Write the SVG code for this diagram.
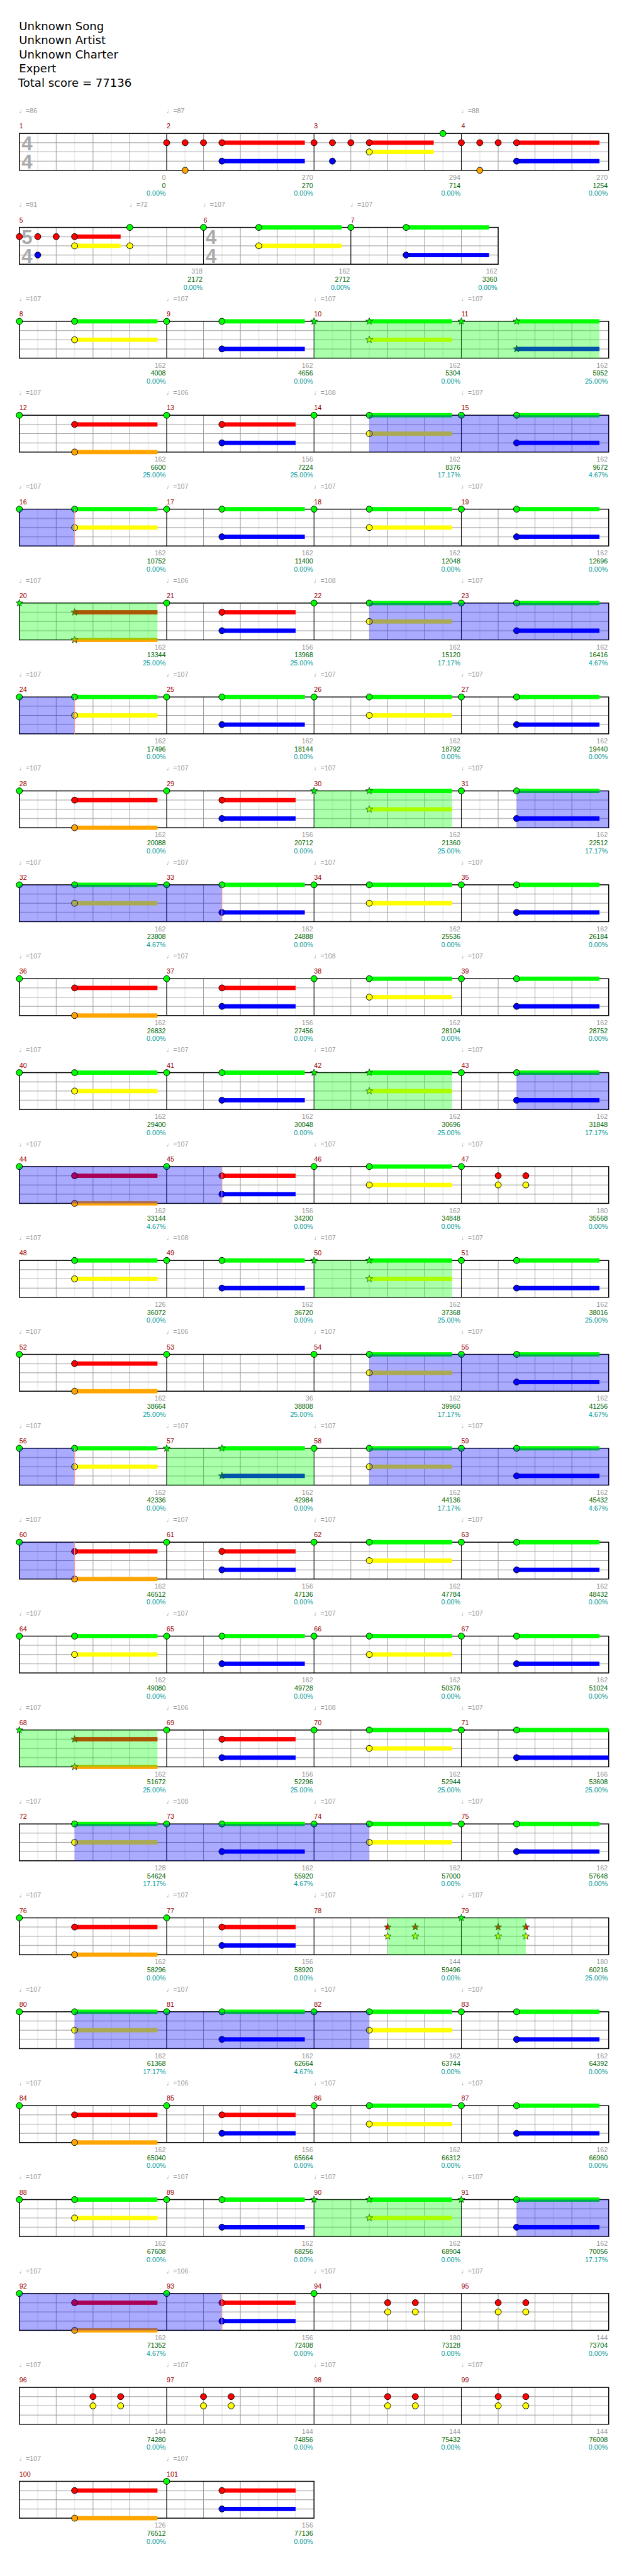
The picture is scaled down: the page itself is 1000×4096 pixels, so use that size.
<svg xmlns="http://www.w3.org/2000/svg" width="1000" height="4096" viewBox="0 0 1000 4096">
<style>
.t{font-family:"Liberation Sans",Arial,sans-serif;font-size:11px}
.hd{font-family:"DejaVu Sans",Verdana,sans-serif;font-size:18.5px;fill:#000}
.tp{fill:#999}
.mn{fill:#900}
.gn{fill:#999;text-anchor:end}
.sc{fill:#060;text-anchor:end}
.pc{fill:#099;text-anchor:end}
.ts{font-family:"Liberation Sans",Arial,sans-serif;font-size:32px;font-weight:bold;fill:#aaa}
.sp{fill:#0f0;fill-opacity:.333}
.ac{fill:#00f;fill-opacity:.333}
.pk{stroke:#f99;stroke-width:1;fill:none}
</style>
<defs>
<pattern id="grid" patternUnits="userSpaceOnUse" x="31" y="0" width="60" height="60">
<rect width="60" height="60" fill="#fff"/>
<path d="M30.5 0V60" stroke="#ddd" stroke-width="1"/>
<path d="M0.5 0V60M0 15H60M0 30H60M0 45H60" stroke="#999" stroke-width="1"/>
</pattern>
<circle id="n" r="5" stroke="#000" stroke-width="1"/>
<polygon id="st" points="0,-6 1.41,-1.94 5.71,-1.85 2.28,0.74 3.53,4.85 0,2.4 -3.53,4.85 -2.28,0.74 -5.71,-1.85 -1.41,-1.94" stroke="#030" stroke-width="0.8"/>
<rect id="s135" width="135" height="7"/>
<rect id="s120" width="120" height="7"/>
<rect id="s150" width="150" height="7"/>
<rect id="s105" width="105" height="7"/>
<rect id="s75" width="75" height="7"/>
<g id="staff"><rect x="31.5" width="960" height="60" fill="url(#grid)"/><path d="M271.5 0V60M511.5 0V60M751.5 0V60" stroke="#000" stroke-width="1" fill="none"/><rect x="31.5" width="960" height="60" fill="none" stroke="#000" stroke-width="1.5"/></g>
<g id="pGY"><use href="#s135" fill="#0f0" x="90" y="-3.5"/><use href="#s135" fill="#ff0" x="90" y="26.5"/><use href="#n" fill="#0f0" x="90"/><use href="#n" fill="#ff0" x="90" y="30"/></g>
<g id="pGB"><use href="#s135" fill="#0f0" x="90" y="-3.5"/><use href="#s135" fill="#00f" x="90" y="41.5"/><use href="#n" fill="#0f0" x="90"/><use href="#n" fill="#00f" x="90" y="45"/></g>
<g id="pRO"><use href="#s135" fill="#f00" x="90" y="11.5"/><use href="#s135" fill="#ffa500" x="90" y="56.5"/><use href="#n" fill="#f00" x="90" y="15"/><use href="#n" fill="#ffa500" x="90" y="60"/></g>
<g id="pRB"><use href="#s120" fill="#f00" x="90" y="11.5"/><use href="#s120" fill="#00f" x="90" y="41.5"/><use href="#n" fill="#f00" x="90" y="15"/><use href="#n" fill="#00f" x="90" y="45"/></g>
<g id="mGY"><use href="#n" fill="#0f0"/><use href="#pGY"/></g>
<g id="mGB"><use href="#n" fill="#0f0"/><use href="#pGB"/></g>
<g id="mRO"><use href="#n" fill="#0f0"/><use href="#pRO"/></g>
<g id="mRB"><use href="#n" fill="#0f0"/><use href="#pRB"/></g>
<g id="mGYs"><use href="#st" fill="#0f0"/><use href="#s135" fill="#0f0" x="90" y="-3.5"/><use href="#s135" fill="#ff0" x="90" y="26.5"/><use href="#st" fill="#0f0" x="90"/><use href="#st" fill="#ff0" x="90" y="30"/></g>
<g id="mGBs"><use href="#st" fill="#0f0"/><use href="#s135" fill="#0f0" x="90" y="-3.5"/><use href="#s135" fill="#00f" x="90" y="41.5"/><use href="#st" fill="#0f0" x="90"/><use href="#st" fill="#00f" x="90" y="45"/></g>
<g id="mROs"><use href="#st" fill="#0f0"/><use href="#s135" fill="#f00" x="90" y="11.5"/><use href="#s135" fill="#ffa500" x="90" y="56.5"/><use href="#st" fill="#f00" x="90" y="15"/><use href="#st" fill="#ffa500" x="90" y="60"/></g>
<g id="cRY"><use href="#n" fill="#f00" y="15"/><use href="#n" fill="#f00" x="45" y="15"/><use href="#n" fill="#ff0" y="30"/><use href="#n" fill="#ff0" x="45" y="30"/></g>
<g id="cRYs"><use href="#st" fill="#f00" y="15"/><use href="#st" fill="#f00" x="45" y="15"/><use href="#st" fill="#ff0" y="30"/><use href="#st" fill="#ff0" x="45" y="30"/></g>
<g id="m2"><use href="#s135" fill="#f00" x="90" y="11.5"/><use href="#s135" fill="#00f" x="90" y="41.5"/><use href="#n" fill="#f00" y="15"/><use href="#n" fill="#f00" x="30" y="15"/><use href="#n" fill="#f00" x="60" y="15"/><use href="#n" fill="#f00" x="90" y="15"/><use href="#n" fill="#00f" x="90" y="45"/><use href="#n" fill="#ffa500" x="30" y="60"/></g>
<g id="m3"><use href="#s105" fill="#f00" x="90" y="11.5"/><use href="#s105" fill="#ff0" x="90" y="26.5"/><use href="#n" fill="#f00" y="15"/><use href="#n" fill="#f00" x="30" y="15"/><use href="#n" fill="#f00" x="60" y="15"/><use href="#n" fill="#f00" x="90" y="15"/><use href="#n" fill="#ff0" x="90" y="30"/><use href="#n" fill="#00f" x="30" y="45"/><use href="#n" fill="#0f0" x="210"/></g>
</defs>
<rect width="1000" height="4096" fill="#fff"/>
<g transform="scale(0.976)">
<g id="header" class="hd">
<text x="31" y="49">Unknown Song</text>
<text x="31" y="72">Unknown Artist</text>
<text x="31" y="95">Unknown Charter</text>
<text x="31" y="118">Expert</text>
<text x="29.5" y="141">Total score = 77136</text>
</g>

<g id="row-1-4" transform="translate(0,217.5)">
<text class="t tp" y="-33"><tspan x="31">♩=86</tspan><tspan x="271">♩=87</tspan><tspan x="751">♩=88</tspan></text>
<text class="t mn" y="-8"><tspan x="31.5">1</tspan><tspan x="271.5">2</tspan><tspan x="511.5">3</tspan><tspan x="751.5">4</tspan></text>
<use href="#staff"/>
<text class="ts" x="35" y="27.5">4</text><text class="ts" x="35" y="57.5">4</text>
<use href="#m2" x="271.5"/><use href="#m3" x="511.5"/><use href="#m2" x="751.5"/>
<text class="t gn" y="75.5"><tspan x="270">0</tspan><tspan x="510">270</tspan><tspan x="750">294</tspan><tspan x="990">270</tspan></text>
<text class="t sc" y="88.5"><tspan x="270">0</tspan><tspan x="510">270</tspan><tspan x="750">714</tspan><tspan x="990">1254</tspan></text>
<text class="t pc" y="101.5"><tspan x="270">0.00%</tspan><tspan x="510">0.00%</tspan><tspan x="750">0.00%</tspan><tspan x="990">0.00%</tspan></text>
</g>

<g id="row-5-7" transform="translate(0,370.5)">
<text class="t tp" y="-33"><tspan x="31">♩=91</tspan><tspan x="211">♩=72</tspan><tspan x="331">♩=107</tspan><tspan x="571">♩=107</tspan></text>
<text class="t mn" y="-8"><tspan x="31.5">5</tspan><tspan x="331.5">6</tspan><tspan x="571.5">7</tspan></text>
<rect x="31.5" width="780" height="60" fill="url(#grid)"/>
<path d="M331.5 0V60M571.5 0V60" stroke="#000" stroke-width="1"/>
<rect x="31.5" width="780" height="60" fill="none" stroke="#000" stroke-width="1.5"/>
<text class="ts" x="35" y="27.5">5</text><text class="ts" x="35" y="57.5">4</text>
<text class="ts" x="335" y="27.5">4</text><text class="ts" x="335" y="57.5">4</text>
<use href="#s75" fill="#f00" x="121.5" y="11.5"/><use href="#s75" fill="#ff0" x="121.5" y="26.5"/>
<use href="#s135" fill="#0f0" x="421.5" y="-3.5"/><use href="#s135" fill="#ff0" x="421.5" y="26.5"/>
<use href="#s135" fill="#0f0" x="661.5" y="-3.5"/><use href="#s135" fill="#00f" x="661.5" y="41.5"/>
<use href="#n" fill="#f00" x="31.5" y="15"/><use href="#n" fill="#f00" x="61.5" y="15"/><use href="#n" fill="#f00" x="91.5" y="15"/><use href="#n" fill="#f00" x="121.5" y="15"/>
<use href="#n" fill="#00f" x="61.5" y="45"/><use href="#n" fill="#ff0" x="121.5" y="30"/>
<use href="#n" fill="#0f0" x="211.5"/><use href="#n" fill="#ff0" x="211.5" y="30"/>
<use href="#n" fill="#0f0" x="331.5"/>
<use href="#n" fill="#0f0" x="421.5"/><use href="#n" fill="#ff0" x="421.5" y="30"/>
<use href="#n" fill="#0f0" x="571.5"/>
<use href="#n" fill="#0f0" x="661.5"/><use href="#n" fill="#00f" x="661.5" y="45"/>
<text class="t gn" y="75.5"><tspan x="330">318</tspan><tspan x="570">162</tspan><tspan x="810">162</tspan></text>
<text class="t sc" y="88.5"><tspan x="330">2172</tspan><tspan x="570">2712</tspan><tspan x="810">3360</tspan></text>
<text class="t pc" y="101.5"><tspan x="330">0.00%</tspan><tspan x="570">0.00%</tspan><tspan x="810">0.00%</tspan></text>
</g>

<g id="row-8-11" transform="translate(0,523.5)">
<text class="t tp" y="-33"><tspan x="31">♩=107</tspan><tspan x="271">♩=107</tspan><tspan x="511">♩=107</tspan><tspan x="751">♩=107</tspan></text>
<text class="t mn" y="-8"><tspan x="31.5">8</tspan><tspan x="271.5">9</tspan><tspan x="511.5">10</tspan><tspan x="751.5">11</tspan></text>
<use href="#staff"/>
<use href="#mGY" x="31.5"/><use href="#mGB" x="271.5"/><use href="#mGYs" x="511.5"/><use href="#mGBs" x="751.5"/>
<rect class="sp" x="511.5" width="465" height="60"/>
<text class="t gn" y="75.5"><tspan x="270">162</tspan><tspan x="510">162</tspan><tspan x="750">162</tspan><tspan x="990">162</tspan></text>
<text class="t sc" y="88.5"><tspan x="270">4008</tspan><tspan x="510">4656</tspan><tspan x="750">5304</tspan><tspan x="990">5952</tspan></text>
<text class="t pc" y="101.5"><tspan x="270">0.00%</tspan><tspan x="510">0.00%</tspan><tspan x="750">0.00%</tspan><tspan x="990">25.00%</tspan></text>
</g>

<g id="row-12-15" transform="translate(0,676.5)">
<text class="t tp" y="-33"><tspan x="31">♩=107</tspan><tspan x="271">♩=106</tspan><tspan x="511">♩=108</tspan><tspan x="751">♩=107</tspan></text>
<text class="t mn" y="-8"><tspan x="31.5">12</tspan><tspan x="271.5">13</tspan><tspan x="511.5">14</tspan><tspan x="751.5">15</tspan></text>
<use href="#staff"/>
<use href="#mRO" x="31.5"/><use href="#mRB" x="271.5"/><use href="#mGY" x="511.5"/><use href="#mGB" x="751.5"/>
<rect class="ac" x="601.5" width="390" height="60"/>
<text class="t gn" y="75.5"><tspan x="270">162</tspan><tspan x="510">156</tspan><tspan x="750">162</tspan><tspan x="990">162</tspan></text>
<text class="t sc" y="88.5"><tspan x="270">6600</tspan><tspan x="510">7224</tspan><tspan x="750">8376</tspan><tspan x="990">9672</tspan></text>
<text class="t pc" y="101.5"><tspan x="270">25.00%</tspan><tspan x="510">25.00%</tspan><tspan x="750">17.17%</tspan><tspan x="990">4.67%</tspan></text>
</g>

<g id="row-16-19" transform="translate(0,829.5)">
<text class="t tp" y="-33"><tspan x="31">♩=107</tspan><tspan x="271">♩=107</tspan><tspan x="511">♩=107</tspan><tspan x="751">♩=107</tspan></text>
<text class="t mn" y="-8"><tspan x="31.5">16</tspan><tspan x="271.5">17</tspan><tspan x="511.5">18</tspan><tspan x="751.5">19</tspan></text>
<use href="#staff"/>
<use href="#mGY" x="31.5"/><use href="#mGB" x="271.5"/><use href="#mGY" x="511.5"/><use href="#mGB" x="751.5"/>
<rect class="ac" x="31.5" width="90" height="60"/><path class="pk" d="M121.5 0V60"/>
<text class="t gn" y="75.5"><tspan x="270">162</tspan><tspan x="510">162</tspan><tspan x="750">162</tspan><tspan x="990">162</tspan></text>
<text class="t sc" y="88.5"><tspan x="270">10752</tspan><tspan x="510">11400</tspan><tspan x="750">12048</tspan><tspan x="990">12696</tspan></text>
<text class="t pc" y="101.5"><tspan x="270">0.00%</tspan><tspan x="510">0.00%</tspan><tspan x="750">0.00%</tspan><tspan x="990">0.00%</tspan></text>
</g>

<g id="row-20-23" transform="translate(0,982.5)">
<text class="t tp" y="-33"><tspan x="31">♩=107</tspan><tspan x="271">♩=106</tspan><tspan x="511">♩=108</tspan><tspan x="751">♩=107</tspan></text>
<text class="t mn" y="-8"><tspan x="31.5">20</tspan><tspan x="271.5">21</tspan><tspan x="511.5">22</tspan><tspan x="751.5">23</tspan></text>
<use href="#staff"/>
<use href="#mROs" x="31.5"/><use href="#mRB" x="271.5"/><use href="#mGY" x="511.5"/><use href="#mGB" x="751.5"/>
<rect class="sp" x="31.5" width="225" height="60"/><rect class="ac" x="601.5" width="390" height="60"/>
<text class="t gn" y="75.5"><tspan x="270">162</tspan><tspan x="510">156</tspan><tspan x="750">162</tspan><tspan x="990">162</tspan></text>
<text class="t sc" y="88.5"><tspan x="270">13344</tspan><tspan x="510">13968</tspan><tspan x="750">15120</tspan><tspan x="990">16416</tspan></text>
<text class="t pc" y="101.5"><tspan x="270">25.00%</tspan><tspan x="510">25.00%</tspan><tspan x="750">17.17%</tspan><tspan x="990">4.67%</tspan></text>
</g>

<g id="row-24-27" transform="translate(0,1135.5)">
<text class="t tp" y="-33"><tspan x="31">♩=107</tspan><tspan x="271">♩=107</tspan><tspan x="511">♩=107</tspan><tspan x="751">♩=107</tspan></text>
<text class="t mn" y="-8"><tspan x="31.5">24</tspan><tspan x="271.5">25</tspan><tspan x="511.5">26</tspan><tspan x="751.5">27</tspan></text>
<use href="#staff"/>
<use href="#mGY" x="31.5"/><use href="#mGB" x="271.5"/><use href="#mGY" x="511.5"/><use href="#mGB" x="751.5"/>
<rect class="ac" x="31.5" width="90" height="60"/><path class="pk" d="M121.5 0V60"/>
<text class="t gn" y="75.5"><tspan x="270">162</tspan><tspan x="510">162</tspan><tspan x="750">162</tspan><tspan x="990">162</tspan></text>
<text class="t sc" y="88.5"><tspan x="270">17496</tspan><tspan x="510">18144</tspan><tspan x="750">18792</tspan><tspan x="990">19440</tspan></text>
<text class="t pc" y="101.5"><tspan x="270">0.00%</tspan><tspan x="510">0.00%</tspan><tspan x="750">0.00%</tspan><tspan x="990">0.00%</tspan></text>
</g>

<g id="row-28-31" transform="translate(0,1288.5)">
<text class="t tp" y="-33"><tspan x="31">♩=107</tspan><tspan x="271">♩=107</tspan><tspan x="511">♩=107</tspan><tspan x="751">♩=107</tspan></text>
<text class="t mn" y="-8"><tspan x="31.5">28</tspan><tspan x="271.5">29</tspan><tspan x="511.5">30</tspan><tspan x="751.5">31</tspan></text>
<use href="#staff"/>
<use href="#mRO" x="31.5"/><use href="#mRB" x="271.5"/><use href="#mGYs" x="511.5"/><use href="#mGB" x="751.5"/>
<rect class="sp" x="511.5" width="225" height="60"/><rect class="ac" x="841.5" width="150" height="60"/>
<text class="t gn" y="75.5"><tspan x="270">162</tspan><tspan x="510">156</tspan><tspan x="750">162</tspan><tspan x="990">162</tspan></text>
<text class="t sc" y="88.5"><tspan x="270">20088</tspan><tspan x="510">20712</tspan><tspan x="750">21360</tspan><tspan x="990">22512</tspan></text>
<text class="t pc" y="101.5"><tspan x="270">0.00%</tspan><tspan x="510">0.00%</tspan><tspan x="750">25.00%</tspan><tspan x="990">17.17%</tspan></text>
</g>

<g id="row-32-35" transform="translate(0,1441.5)">
<text class="t tp" y="-33"><tspan x="31">♩=107</tspan><tspan x="271">♩=107</tspan><tspan x="511">♩=107</tspan><tspan x="751">♩=107</tspan></text>
<text class="t mn" y="-8"><tspan x="31.5">32</tspan><tspan x="271.5">33</tspan><tspan x="511.5">34</tspan><tspan x="751.5">35</tspan></text>
<use href="#staff"/>
<use href="#mGY" x="31.5"/><use href="#mGB" x="271.5"/><use href="#mGY" x="511.5"/><use href="#mGB" x="751.5"/>
<rect class="ac" x="31.5" width="330" height="60"/><path class="pk" d="M361.5 0V60"/>
<text class="t gn" y="75.5"><tspan x="270">162</tspan><tspan x="510">162</tspan><tspan x="750">162</tspan><tspan x="990">162</tspan></text>
<text class="t sc" y="88.5"><tspan x="270">23808</tspan><tspan x="510">24888</tspan><tspan x="750">25536</tspan><tspan x="990">26184</tspan></text>
<text class="t pc" y="101.5"><tspan x="270">4.67%</tspan><tspan x="510">0.00%</tspan><tspan x="750">0.00%</tspan><tspan x="990">0.00%</tspan></text>
</g>

<g id="row-36-39" transform="translate(0,1594.5)">
<text class="t tp" y="-33"><tspan x="31">♩=107</tspan><tspan x="271">♩=107</tspan><tspan x="511">♩=108</tspan><tspan x="751">♩=107</tspan></text>
<text class="t mn" y="-8"><tspan x="31.5">36</tspan><tspan x="271.5">37</tspan><tspan x="511.5">38</tspan><tspan x="751.5">39</tspan></text>
<use href="#staff"/>
<use href="#mRO" x="31.5"/><use href="#mRB" x="271.5"/><use href="#mGY" x="511.5"/><use href="#mGB" x="751.5"/>
<text class="t gn" y="75.5"><tspan x="270">162</tspan><tspan x="510">156</tspan><tspan x="750">162</tspan><tspan x="990">162</tspan></text>
<text class="t sc" y="88.5"><tspan x="270">26832</tspan><tspan x="510">27456</tspan><tspan x="750">28104</tspan><tspan x="990">28752</tspan></text>
<text class="t pc" y="101.5"><tspan x="270">0.00%</tspan><tspan x="510">0.00%</tspan><tspan x="750">0.00%</tspan><tspan x="990">0.00%</tspan></text>
</g>

<g id="row-40-43" transform="translate(0,1747.5)">
<text class="t tp" y="-33"><tspan x="31">♩=107</tspan><tspan x="271">♩=107</tspan><tspan x="511">♩=107</tspan><tspan x="751">♩=107</tspan></text>
<text class="t mn" y="-8"><tspan x="31.5">40</tspan><tspan x="271.5">41</tspan><tspan x="511.5">42</tspan><tspan x="751.5">43</tspan></text>
<use href="#staff"/>
<use href="#mGY" x="31.5"/><use href="#mGB" x="271.5"/><use href="#mGYs" x="511.5"/><use href="#mGB" x="751.5"/>
<rect class="sp" x="511.5" width="225" height="60"/><rect class="ac" x="841.5" width="150" height="60"/>
<text class="t gn" y="75.5"><tspan x="270">162</tspan><tspan x="510">162</tspan><tspan x="750">162</tspan><tspan x="990">162</tspan></text>
<text class="t sc" y="88.5"><tspan x="270">29400</tspan><tspan x="510">30048</tspan><tspan x="750">30696</tspan><tspan x="990">31848</tspan></text>
<text class="t pc" y="101.5"><tspan x="270">0.00%</tspan><tspan x="510">0.00%</tspan><tspan x="750">25.00%</tspan><tspan x="990">17.17%</tspan></text>
</g>

<g id="row-44-47" transform="translate(0,1900.5)">
<text class="t tp" y="-33"><tspan x="31">♩=107</tspan><tspan x="271">♩=107</tspan><tspan x="511">♩=107</tspan><tspan x="751">♩=107</tspan></text>
<text class="t mn" y="-8"><tspan x="31.5">44</tspan><tspan x="271.5">45</tspan><tspan x="511.5">46</tspan><tspan x="751.5">47</tspan></text>
<use href="#staff"/>
<use href="#mRO" x="31.5"/><use href="#mRB" x="271.5"/><use href="#mGY" x="511.5"/><use href="#n" fill="#0f0" x="751.5"/><use href="#cRY" x="811.5"/>
<rect class="ac" x="31.5" width="330" height="60"/><path class="pk" d="M361.5 0V60"/>
<text class="t gn" y="75.5"><tspan x="270">162</tspan><tspan x="510">156</tspan><tspan x="750">162</tspan><tspan x="990">180</tspan></text>
<text class="t sc" y="88.5"><tspan x="270">33144</tspan><tspan x="510">34200</tspan><tspan x="750">34848</tspan><tspan x="990">35568</tspan></text>
<text class="t pc" y="101.5"><tspan x="270">4.67%</tspan><tspan x="510">0.00%</tspan><tspan x="750">0.00%</tspan><tspan x="990">0.00%</tspan></text>
</g>

<g id="row-48-51" transform="translate(0,2053.5)">
<text class="t tp" y="-33"><tspan x="31">♩=107</tspan><tspan x="271">♩=108</tspan><tspan x="511">♩=107</tspan><tspan x="751">♩=107</tspan></text>
<text class="t mn" y="-8"><tspan x="31.5">48</tspan><tspan x="271.5">49</tspan><tspan x="511.5">50</tspan><tspan x="751.5">51</tspan></text>
<use href="#staff"/>
<use href="#pGY" x="31.5"/><use href="#mGB" x="271.5"/><use href="#mGYs" x="511.5"/><use href="#mGB" x="751.5"/>
<rect class="sp" x="511.5" width="225" height="60"/>
<text class="t gn" y="75.5"><tspan x="270">126</tspan><tspan x="510">162</tspan><tspan x="750">162</tspan><tspan x="990">162</tspan></text>
<text class="t sc" y="88.5"><tspan x="270">36072</tspan><tspan x="510">36720</tspan><tspan x="750">37368</tspan><tspan x="990">38016</tspan></text>
<text class="t pc" y="101.5"><tspan x="270">0.00%</tspan><tspan x="510">0.00%</tspan><tspan x="750">25.00%</tspan><tspan x="990">25.00%</tspan></text>
</g>

<g id="row-52-55" transform="translate(0,2206.5)">
<text class="t tp" y="-33"><tspan x="31">♩=107</tspan><tspan x="271">♩=106</tspan><tspan x="511">♩=107</tspan><tspan x="751">♩=107</tspan></text>
<text class="t mn" y="-8"><tspan x="31.5">52</tspan><tspan x="271.5">53</tspan><tspan x="511.5">54</tspan><tspan x="751.5">55</tspan></text>
<use href="#staff"/>
<use href="#mRO" x="31.5"/><use href="#n" fill="#0f0" x="271.5"/><use href="#mGY" x="511.5"/><use href="#mGB" x="751.5"/>
<rect class="ac" x="601.5" width="390" height="60"/>
<text class="t gn" y="75.5"><tspan x="270">162</tspan><tspan x="510">36</tspan><tspan x="750">162</tspan><tspan x="990">162</tspan></text>
<text class="t sc" y="88.5"><tspan x="270">38664</tspan><tspan x="510">38808</tspan><tspan x="750">39960</tspan><tspan x="990">41256</tspan></text>
<text class="t pc" y="101.5"><tspan x="270">25.00%</tspan><tspan x="510">25.00%</tspan><tspan x="750">17.17%</tspan><tspan x="990">4.67%</tspan></text>
</g>

<g id="row-56-59" transform="translate(0,2359.5)">
<text class="t tp" y="-33"><tspan x="31">♩=107</tspan><tspan x="271">♩=107</tspan><tspan x="511">♩=107</tspan><tspan x="751">♩=107</tspan></text>
<text class="t mn" y="-8"><tspan x="31.5">56</tspan><tspan x="271.5">57</tspan><tspan x="511.5">58</tspan><tspan x="751.5">59</tspan></text>
<use href="#staff"/>
<use href="#mGY" x="31.5"/><use href="#mGBs" x="271.5"/><use href="#mGY" x="511.5"/><use href="#mGB" x="751.5"/>
<rect class="ac" x="31.5" width="90" height="60"/><path class="pk" d="M121.5 0V60"/>
<rect class="sp" x="271.5" width="240" height="60"/><rect class="ac" x="601.5" width="390" height="60"/>
<text class="t gn" y="75.5"><tspan x="270">162</tspan><tspan x="510">162</tspan><tspan x="750">162</tspan><tspan x="990">162</tspan></text>
<text class="t sc" y="88.5"><tspan x="270">42336</tspan><tspan x="510">42984</tspan><tspan x="750">44136</tspan><tspan x="990">45432</tspan></text>
<text class="t pc" y="101.5"><tspan x="270">0.00%</tspan><tspan x="510">0.00%</tspan><tspan x="750">17.17%</tspan><tspan x="990">4.67%</tspan></text>
</g>

<g id="row-60-63" transform="translate(0,2512.5)">
<text class="t tp" y="-33"><tspan x="31">♩=107</tspan><tspan x="271">♩=107</tspan><tspan x="511">♩=107</tspan><tspan x="751">♩=107</tspan></text>
<text class="t mn" y="-8"><tspan x="31.5">60</tspan><tspan x="271.5">61</tspan><tspan x="511.5">62</tspan><tspan x="751.5">63</tspan></text>
<use href="#staff"/>
<use href="#mRO" x="31.5"/><use href="#mRB" x="271.5"/><use href="#mGY" x="511.5"/><use href="#mGB" x="751.5"/>
<rect class="ac" x="31.5" width="90" height="60"/><path class="pk" d="M121.5 0V60"/>
<text class="t gn" y="75.5"><tspan x="270">162</tspan><tspan x="510">156</tspan><tspan x="750">162</tspan><tspan x="990">162</tspan></text>
<text class="t sc" y="88.5"><tspan x="270">46512</tspan><tspan x="510">47136</tspan><tspan x="750">47784</tspan><tspan x="990">48432</tspan></text>
<text class="t pc" y="101.5"><tspan x="270">0.00%</tspan><tspan x="510">0.00%</tspan><tspan x="750">0.00%</tspan><tspan x="990">0.00%</tspan></text>
</g>

<g id="row-64-67" transform="translate(0,2665.5)">
<text class="t tp" y="-33"><tspan x="31">♩=107</tspan><tspan x="271">♩=107</tspan><tspan x="511">♩=107</tspan><tspan x="751">♩=107</tspan></text>
<text class="t mn" y="-8"><tspan x="31.5">64</tspan><tspan x="271.5">65</tspan><tspan x="511.5">66</tspan><tspan x="751.5">67</tspan></text>
<use href="#staff"/>
<use href="#mGY" x="31.5"/><use href="#mGB" x="271.5"/><use href="#mGY" x="511.5"/><use href="#mGB" x="751.5"/>
<text class="t gn" y="75.5"><tspan x="270">162</tspan><tspan x="510">162</tspan><tspan x="750">162</tspan><tspan x="990">162</tspan></text>
<text class="t sc" y="88.5"><tspan x="270">49080</tspan><tspan x="510">49728</tspan><tspan x="750">50376</tspan><tspan x="990">51024</tspan></text>
<text class="t pc" y="101.5"><tspan x="270">0.00%</tspan><tspan x="510">0.00%</tspan><tspan x="750">0.00%</tspan><tspan x="990">0.00%</tspan></text>
</g>

<g id="row-68-71" transform="translate(0,2818.5)">
<text class="t tp" y="-33"><tspan x="31">♩=107</tspan><tspan x="271">♩=106</tspan><tspan x="511">♩=108</tspan><tspan x="751">♩=107</tspan></text>
<text class="t mn" y="-8"><tspan x="31.5">68</tspan><tspan x="271.5">69</tspan><tspan x="511.5">70</tspan><tspan x="751.5">71</tspan></text>
<use href="#staff"/>
<use href="#mROs" x="31.5"/><use href="#mRB" x="271.5"/><use href="#mGY" x="511.5"/>
<use href="#n" fill="#0f0" x="751.5"/><use href="#s150" fill="#0f0" x="841.5" y="-3.5"/><use href="#s150" fill="#00f" x="841.5" y="41.5"/><use href="#n" fill="#0f0" x="841.5"/><use href="#n" fill="#00f" x="841.5" y="45"/>
<rect class="sp" x="31.5" width="225" height="60"/>
<text class="t gn" y="75.5"><tspan x="270">162</tspan><tspan x="510">156</tspan><tspan x="750">162</tspan><tspan x="990">166</tspan></text>
<text class="t sc" y="88.5"><tspan x="270">51672</tspan><tspan x="510">52296</tspan><tspan x="750">52944</tspan><tspan x="990">53608</tspan></text>
<text class="t pc" y="101.5"><tspan x="270">25.00%</tspan><tspan x="510">25.00%</tspan><tspan x="750">25.00%</tspan><tspan x="990">25.00%</tspan></text>
</g>

<g id="row-72-75" transform="translate(0,2971.5)">
<text class="t tp" y="-33"><tspan x="31">♩=107</tspan><tspan x="271">♩=108</tspan><tspan x="511">♩=107</tspan><tspan x="751">♩=107</tspan></text>
<text class="t mn" y="-8"><tspan x="31.5">72</tspan><tspan x="271.5">73</tspan><tspan x="511.5">74</tspan><tspan x="751.5">75</tspan></text>
<use href="#staff"/>
<use href="#pGY" x="31.5"/><use href="#mGB" x="271.5"/><use href="#mGY" x="511.5"/><use href="#mGB" x="751.5"/>
<rect class="ac" x="121.5" width="480" height="60"/>
<text class="t gn" y="75.5"><tspan x="270">128</tspan><tspan x="510">162</tspan><tspan x="750">162</tspan><tspan x="990">162</tspan></text>
<text class="t sc" y="88.5"><tspan x="270">54624</tspan><tspan x="510">55920</tspan><tspan x="750">57000</tspan><tspan x="990">57648</tspan></text>
<text class="t pc" y="101.5"><tspan x="270">17.17%</tspan><tspan x="510">4.67%</tspan><tspan x="750">0.00%</tspan><tspan x="990">0.00%</tspan></text>
</g>

<g id="row-76-79" transform="translate(0,3124.5)">
<text class="t tp" y="-33"><tspan x="31">♩=107</tspan><tspan x="271">♩=107</tspan><tspan x="511">♩=107</tspan><tspan x="751">♩=107</tspan></text>
<text class="t mn" y="-8"><tspan x="31.5">76</tspan><tspan x="271.5">77</tspan><tspan x="511.5">78</tspan><tspan x="751.5">79</tspan></text>
<use href="#staff"/>
<use href="#mRO" x="31.5"/><use href="#mRB" x="271.5"/><use href="#cRYs" x="631.5"/><use href="#st" fill="#0f0" x="751.5"/><use href="#cRYs" x="811.5"/>
<rect class="sp" x="631.5" width="225" height="60"/>
<text class="t gn" y="75.5"><tspan x="270">162</tspan><tspan x="510">156</tspan><tspan x="750">144</tspan><tspan x="990">180</tspan></text>
<text class="t sc" y="88.5"><tspan x="270">58296</tspan><tspan x="510">58920</tspan><tspan x="750">59496</tspan><tspan x="990">60216</tspan></text>
<text class="t pc" y="101.5"><tspan x="270">0.00%</tspan><tspan x="510">0.00%</tspan><tspan x="750">0.00%</tspan><tspan x="990">25.00%</tspan></text>
</g>

<g id="row-80-83" transform="translate(0,3277.5)">
<text class="t tp" y="-33"><tspan x="31">♩=107</tspan><tspan x="271">♩=107</tspan><tspan x="511">♩=107</tspan><tspan x="751">♩=107</tspan></text>
<text class="t mn" y="-8"><tspan x="31.5">80</tspan><tspan x="271.5">81</tspan><tspan x="511.5">82</tspan><tspan x="751.5">83</tspan></text>
<use href="#staff"/>
<use href="#mGY" x="31.5"/><use href="#mGB" x="271.5"/><use href="#mGY" x="511.5"/><use href="#mGB" x="751.5"/>
<rect class="ac" x="121.5" width="480" height="60"/>
<text class="t gn" y="75.5"><tspan x="270">162</tspan><tspan x="510">162</tspan><tspan x="750">162</tspan><tspan x="990">162</tspan></text>
<text class="t sc" y="88.5"><tspan x="270">61368</tspan><tspan x="510">62664</tspan><tspan x="750">63744</tspan><tspan x="990">64392</tspan></text>
<text class="t pc" y="101.5"><tspan x="270">17.17%</tspan><tspan x="510">4.67%</tspan><tspan x="750">0.00%</tspan><tspan x="990">0.00%</tspan></text>
</g>

<g id="row-84-87" transform="translate(0,3430.5)">
<text class="t tp" y="-33"><tspan x="31">♩=107</tspan><tspan x="271">♩=106</tspan><tspan x="511">♩=107</tspan><tspan x="751">♩=107</tspan></text>
<text class="t mn" y="-8"><tspan x="31.5">84</tspan><tspan x="271.5">85</tspan><tspan x="511.5">86</tspan><tspan x="751.5">87</tspan></text>
<use href="#staff"/>
<use href="#mRO" x="31.5"/><use href="#mRB" x="271.5"/><use href="#mGY" x="511.5"/><use href="#mGB" x="751.5"/>
<text class="t gn" y="75.5"><tspan x="270">162</tspan><tspan x="510">156</tspan><tspan x="750">162</tspan><tspan x="990">162</tspan></text>
<text class="t sc" y="88.5"><tspan x="270">65040</tspan><tspan x="510">65664</tspan><tspan x="750">66312</tspan><tspan x="990">66960</tspan></text>
<text class="t pc" y="101.5"><tspan x="270">0.00%</tspan><tspan x="510">0.00%</tspan><tspan x="750">0.00%</tspan><tspan x="990">0.00%</tspan></text>
</g>

<g id="row-88-91" transform="translate(0,3583.5)">
<text class="t tp" y="-33"><tspan x="31">♩=107</tspan><tspan x="271">♩=107</tspan><tspan x="511">♩=107</tspan><tspan x="751">♩=107</tspan></text>
<text class="t mn" y="-8"><tspan x="31.5">88</tspan><tspan x="271.5">89</tspan><tspan x="511.5">90</tspan><tspan x="751.5">91</tspan></text>
<use href="#staff"/>
<use href="#mGY" x="31.5"/><use href="#mGB" x="271.5"/><use href="#mGYs" x="511.5"/><use href="#st" fill="#0f0" x="751.5"/><use href="#pGB" x="751.5"/>
<rect class="sp" x="511.5" width="240" height="60"/><rect class="ac" x="841.5" width="150" height="60"/>
<text class="t gn" y="75.5"><tspan x="270">162</tspan><tspan x="510">162</tspan><tspan x="750">162</tspan><tspan x="990">162</tspan></text>
<text class="t sc" y="88.5"><tspan x="270">67608</tspan><tspan x="510">68256</tspan><tspan x="750">68904</tspan><tspan x="990">70056</tspan></text>
<text class="t pc" y="101.5"><tspan x="270">0.00%</tspan><tspan x="510">0.00%</tspan><tspan x="750">0.00%</tspan><tspan x="990">17.17%</tspan></text>
</g>

<g id="row-92-95" transform="translate(0,3736.5)">
<text class="t tp" y="-33"><tspan x="31">♩=107</tspan><tspan x="271">♩=106</tspan><tspan x="511">♩=107</tspan><tspan x="751">♩=107</tspan></text>
<text class="t mn" y="-8"><tspan x="31.5">92</tspan><tspan x="271.5">93</tspan><tspan x="511.5">94</tspan><tspan x="751.5">95</tspan></text>
<use href="#staff"/>
<use href="#mRO" x="31.5"/><use href="#mRB" x="271.5"/><use href="#n" fill="#0f0" x="511.5"/><use href="#cRY" x="631.5"/><use href="#cRY" x="811.5"/>
<rect class="ac" x="31.5" width="330" height="60"/><path class="pk" d="M361.5 0V60"/>
<text class="t gn" y="75.5"><tspan x="270">162</tspan><tspan x="510">156</tspan><tspan x="750">180</tspan><tspan x="990">144</tspan></text>
<text class="t sc" y="88.5"><tspan x="270">71352</tspan><tspan x="510">72408</tspan><tspan x="750">73128</tspan><tspan x="990">73704</tspan></text>
<text class="t pc" y="101.5"><tspan x="270">4.67%</tspan><tspan x="510">0.00%</tspan><tspan x="750">0.00%</tspan><tspan x="990">0.00%</tspan></text>
</g>

<g id="row-96-99" transform="translate(0,3889.5)">
<text class="t tp" y="-33"><tspan x="31">♩=107</tspan><tspan x="271">♩=107</tspan><tspan x="511">♩=107</tspan><tspan x="751">♩=107</tspan></text>
<text class="t mn" y="-8"><tspan x="31.5">96</tspan><tspan x="271.5">97</tspan><tspan x="511.5">98</tspan><tspan x="751.5">99</tspan></text>
<use href="#staff"/>
<use href="#cRY" x="151.5"/><use href="#cRY" x="331.5"/><use href="#cRY" x="631.5"/><use href="#cRY" x="811.5"/>
<text class="t gn" y="75.5"><tspan x="270">144</tspan><tspan x="510">144</tspan><tspan x="750">144</tspan><tspan x="990">144</tspan></text>
<text class="t sc" y="88.5"><tspan x="270">74280</tspan><tspan x="510">74856</tspan><tspan x="750">75432</tspan><tspan x="990">76008</tspan></text>
<text class="t pc" y="101.5"><tspan x="270">0.00%</tspan><tspan x="510">0.00%</tspan><tspan x="750">0.00%</tspan><tspan x="990">0.00%</tspan></text>
</g>

<g id="row-100-101" transform="translate(0,4042.5)">
<text class="t tp" y="-33"><tspan x="31">♩=107</tspan><tspan x="271">♩=107</tspan></text>
<text class="t mn" y="-8"><tspan x="31.5">100</tspan><tspan x="271.5">101</tspan></text>
<rect x="31.5" width="480" height="60" fill="url(#grid)"/>
<path d="M271.5 0V60" stroke="#000" stroke-width="1"/>
<rect x="31.5" width="480" height="60" fill="none" stroke="#000" stroke-width="1.5"/>
<use href="#pRO" x="31.5"/><use href="#mRB" x="271.5"/>
<text class="t gn" y="75.5"><tspan x="270">126</tspan><tspan x="510">156</tspan></text>
<text class="t sc" y="88.5"><tspan x="270">76512</tspan><tspan x="510">77136</tspan></text>
<text class="t pc" y="101.5"><tspan x="270">0.00%</tspan><tspan x="510">0.00%</tspan></text>
</g>
</g>
</svg>
